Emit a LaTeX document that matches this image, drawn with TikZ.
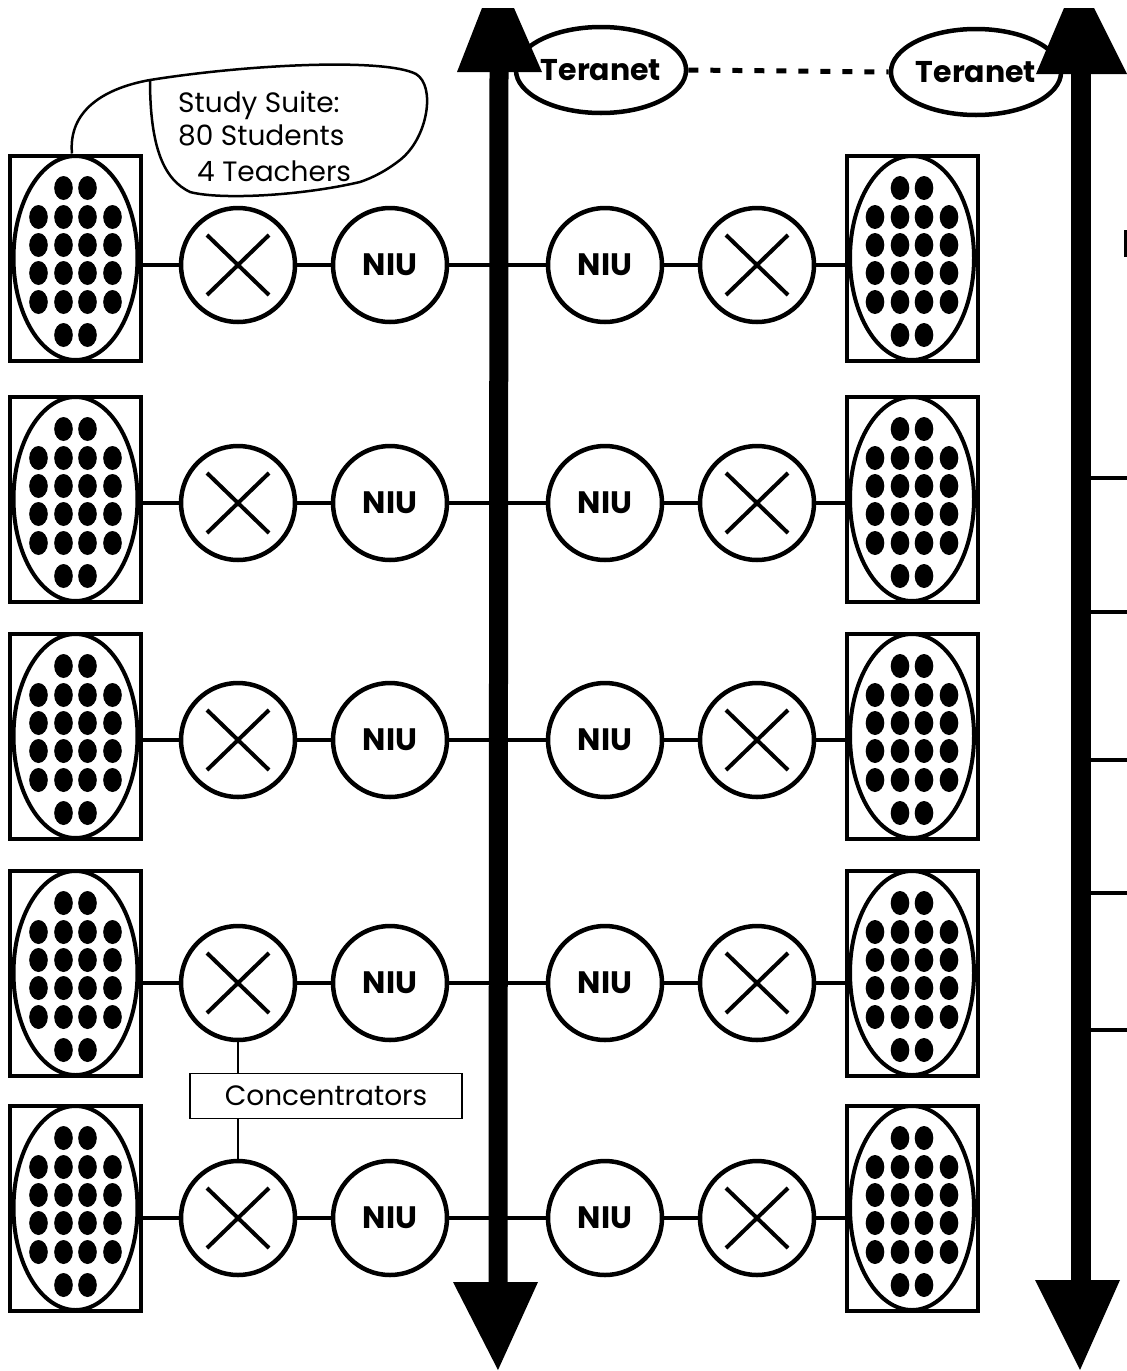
\documentclass[tikz,border=0pt]{standalone}
\usepackage{fontspec}
\setmainfont{Poppins}
\usetikzlibrary{shapes.geometric}
\newcommand\suitedots[1]{%
  \foreach \dx/\dy in {-12/-70,12/-70,
      -37/-41,-12/-41,12/-41,37/-41,
      -37/-13,-12/-13,12/-13,37/-13,
      -37/15,-12/15,12/15,37/15,
      -37/44,-12/44,12/44,37/44,
      -12/77,12/77}
    {\fill (#1.center) ++(\dx,\dy) ellipse [x radius=9.3, y radius=12];}%
}
\begin{document}
\begin{tikzpicture}[x=1pt,y=-1pt,
  suitebox/.style={draw, line width=4pt, minimum width=131pt, minimum height=205pt, inner sep=0pt},
  unit/.style={circle, draw, line width=4.5pt, minimum size=114pt, inner sep=0pt},
  niu/.style={unit, font=\bfseries\fontsize{31}{32}\selectfont},
  tera/.style={ellipse, draw, line width=4.5pt, minimum width=160pt, minimum height=86pt, inner sep=0pt, font=\bfseries\fontsize{30}{31}\selectfont},
  wire/.style={line width=4pt},
  xline/.style={line width=4pt},
  shaftl/.style={line width=19pt},
  shaftr/.style={line width=20pt},
  label/.style={font=\fontsize{28}{30}\selectfont, inner sep=0pt, anchor=base west}
]
\useasboundingbox (0,0) rectangle (1127,1371);

% backbone coordinates
\coordinate (LTb) at (499,72);
\coordinate (LBb) at (498,1282);
\coordinate (LB) at (498,1370);
\coordinate (RTb) at (1081,74);
\coordinate (RBb) at (1081,1280);
\coordinate (RB) at (1080,1370);

% Teranet
\node[tera] (T1) at (601,70) {Teranet};
\node[tera] (T2) at (976,72) {Teranet};
\draw[line width=5pt, dash pattern=on 10pt off 12pt] (T1.east) -- (T2.west);

% rows
\foreach \i/\y/\b in {1/265/258, 2/503/499, 3/740/736, 4/983/973, 5/1218/1208} {
  \node[suitebox] (LS\i) at (75.5,\b) {};
  \draw[line width=4pt] (LS\i.center) ellipse [x radius=62, y radius=102];
  \suitedots{LS\i}
  \node[unit] (LX\i) at (238,\y) {};
  \draw[xline] (LX\i.center) ++(-31,-30) -- ++(62,60);
  \draw[xline] (LX\i.center) ++(31,-30) -- ++(-62,60);
  \node[niu] (LN\i) at (390,\y) {NIU};
  \node[niu] (RN\i) at (605,\y) {NIU};
  \node[unit] (RX\i) at (757,\y) {};
  \draw[xline] (RX\i.center) ++(-31,-30) -- ++(62,60);
  \draw[xline] (RX\i.center) ++(31,-30) -- ++(-62,60);
  \node[suitebox] (RS\i) at (912,\b) {};
  \draw[line width=4pt] (RS\i.center) ellipse [x radius=62, y radius=102];
  \suitedots{RS\i}
  \draw[wire] (LS\i.east |- LX\i) -- (LX\i.west);
  \draw[wire] (LX\i.east) -- (LN\i.west);
  \draw[wire] (LN\i.east) -- (LN\i.east -| LTb);
  \draw[wire] (RN\i.west -| LTb) -- (RN\i.west);
  \draw[wire] (RN\i.east) -- (RX\i.west);
  \draw[wire] (RX\i.east) -- (RS\i.west |- RX\i);
}

% backbone arrows
\draw[shaftl] (LTb) -- (LBb);
\fill (482,8) -- (514,8) -- (542,72) -- (457,72) -- cycle;
\fill (LB) -- (453,1282) -- (538,1282) -- cycle;
\draw[shaftr] (RTb) -- (RBb);
\fill (1064,8) -- (1094,8) -- (1127,74) -- (1036,74) -- cycle;
\fill (RB) -- (1035,1280) -- (1120,1280) -- cycle;

% branches to the right of the second backbone
\foreach \y in {478,612,760,893,1030}
  \draw[wire] (RTb |- 0,\y) -- (1127,\y);
\draw[line width=3pt] (1125,230) -- (1125,257);

% Study suite callout
\draw[line width=2.5pt] (LS1.north -| 72,0) .. controls (68,110) and (105,88) .. (150,80)
  .. controls (250,64) and (385,58) .. (416,74)
  .. controls (436,86) and (428,138) .. (400,160)
  .. controls (386,171) and (372,178) .. (360,182)
  .. controls (300,196) and (220,200) .. (190,192)
  .. controls (165,180) and (150,150) .. (150,80);
\node[label] (st1) at (178,112) {Study Suite:};
\node[label] (st2) at (178,145) {80 Students};
\node[label] (st3) at (197,181) {4 Teachers};

% Concentrators
\node[draw, line width=1.5pt, minimum width=272pt, minimum height=45pt, inner sep=0pt,
  font=\fontsize{28}{30}\selectfont] (conc) at (326,1096) {Concentrators};
\draw[line width=1.5pt] (LX4.south) -- (LX4.south |- conc.north);
\draw[line width=1.5pt] (LX5.north |- conc.south) -- (LX5.north);
\end{tikzpicture}
\end{document}
